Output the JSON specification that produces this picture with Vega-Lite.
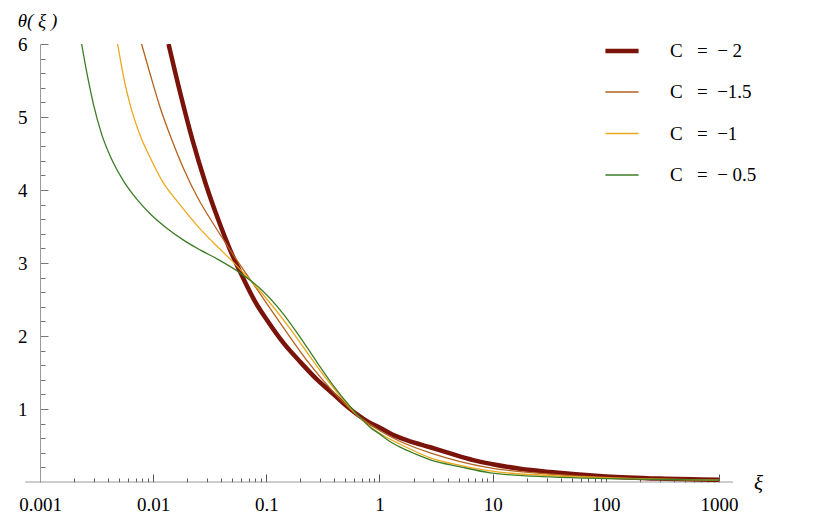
{
  "$schema": "https://vega.github.io/schema/vega-lite/v6.json",
  "width": 693,
  "height": 438,
  "autosize": {"type": "none"},
  "padding": {"left": 40, "top": 44, "right": 97, "bottom": 44},
  "background": "white",
  "config": {"view": {"stroke": null}, "font": "Liberation Serif"},
  "datasets": {
    "curves": [
      {"xi": 0.01367, "theta": 6.0, "C": "-2"},
      {"xi": 0.01746, "theta": 5.311, "C": "-2"},
      {"xi": 0.02227, "theta": 4.682, "C": "-2"},
      {"xi": 0.02901, "theta": 4.093, "C": "-2"},
      {"xi": 0.037, "theta": 3.622, "C": "-2"},
      {"xi": 0.04822, "theta": 3.167, "C": "-2"},
      {"xi": 0.0628, "theta": 2.784, "C": "-2"},
      {"xi": 0.08012, "theta": 2.463, "C": "-2"},
      {"xi": 0.1023, "theta": 2.208, "C": "-2"},
      {"xi": 0.1416, "theta": 1.905, "C": "-2"},
      {"xi": 0.2, "theta": 1.642, "C": "-2"},
      {"xi": 0.2768, "theta": 1.412, "C": "-2"},
      {"xi": 0.391, "theta": 1.204, "C": "-2"},
      {"xi": 0.5093, "theta": 1.043, "C": "-2"},
      {"xi": 0.6368, "theta": 0.924, "C": "-2"},
      {"xi": 0.7964, "theta": 0.822, "C": "-2"},
      {"xi": 1.0, "theta": 0.746, "C": "-2"},
      {"xi": 1.297, "theta": 0.65, "C": "-2"},
      {"xi": 1.759, "theta": 0.57, "C": "-2"},
      {"xi": 2.808, "theta": 0.476, "C": "-2"},
      {"xi": 4.217, "theta": 0.391, "C": "-2"},
      {"xi": 6.729, "theta": 0.299, "C": "-2"},
      {"xi": 10, "theta": 0.244, "C": "-2"},
      {"xi": 17.49, "theta": 0.182, "C": "-2"},
      {"xi": 32.17, "theta": 0.137, "C": "-2"},
      {"xi": 100, "theta": 0.077, "C": "-2"},
      {"xi": 300.9, "theta": 0.047, "C": "-2"},
      {"xi": 1000, "theta": 0.03, "C": "-2"},

      {"xi": 0.007901, "theta": 6.0, "C": "-1.5"},
      {"xi": 0.009487, "theta": 5.568, "C": "-1.5"},
      {"xi": 0.01162, "theta": 5.114, "C": "-1.5"},
      {"xi": 0.01453, "theta": 4.699, "C": "-1.5"},
      {"xi": 0.01855, "theta": 4.295, "C": "-1.5"},
      {"xi": 0.02516, "theta": 3.873, "C": "-1.5"},
      {"xi": 0.03412, "theta": 3.534, "C": "-1.5"},
      {"xi": 0.05124, "theta": 3.109, "C": "-1.5"},
      {"xi": 0.08517, "theta": 2.611, "C": "-1.5"},
      {"xi": 0.1416, "theta": 2.115, "C": "-1.5"},
      {"xi": 0.2449, "theta": 1.604, "C": "-1.5"},
      {"xi": 0.391, "theta": 1.235, "C": "-1.5"},
      {"xi": 0.6368, "theta": 0.913, "C": "-1.5"},
      {"xi": 1.0, "theta": 0.706, "C": "-1.5"},
      {"xi": 1.526, "theta": 0.555, "C": "-1.5"},
      {"xi": 2.808, "theta": 0.399, "C": "-1.5"},
      {"xi": 5.168, "theta": 0.28, "C": "-1.5"},
      {"xi": 9.504, "theta": 0.193, "C": "-1.5"},
      {"xi": 32.17, "theta": 0.107, "C": "-1.5"},
      {"xi": 100, "theta": 0.062, "C": "-1.5"},
      {"xi": 300.9, "theta": 0.037, "C": "-1.5"},
      {"xi": 1000, "theta": 0.025, "C": "-1.5"},

      {"xi": 0.00485, "theta": 6.0, "C": "-1"},
      {"xi": 0.005156, "theta": 5.767, "C": "-1"},
      {"xi": 0.005479, "theta": 5.548, "C": "-1"},
      {"xi": 0.006318, "theta": 5.145, "C": "-1"},
      {"xi": 0.007742, "theta": 4.733, "C": "-1"},
      {"xi": 0.009487, "theta": 4.432, "C": "-1"},
      {"xi": 0.01235, "theta": 4.093, "C": "-1"},
      {"xi": 0.01642, "theta": 3.84, "C": "-1"},
      {"xi": 0.0262, "theta": 3.461, "C": "-1"},
      {"xi": 0.03343, "theta": 3.291, "C": "-1"},
      {"xi": 0.05124, "theta": 3.009, "C": "-1"},
      {"xi": 0.08869, "theta": 2.609, "C": "-1"},
      {"xi": 0.1632, "theta": 2.095, "C": "-1"},
      {"xi": 0.2825, "theta": 1.576, "C": "-1"},
      {"xi": 0.4508, "theta": 1.173, "C": "-1"},
      {"xi": 0.6368, "theta": 0.914, "C": "-1"},
      {"xi": 0.8293, "theta": 0.757, "C": "-1"},
      {"xi": 1.0, "theta": 0.668, "C": "-1"},
      {"xi": 1.526, "theta": 0.517, "C": "-1"},
      {"xi": 2.808, "theta": 0.332, "C": "-1"},
      {"xi": 5.168, "theta": 0.229, "C": "-1"},
      {"xi": 9.504, "theta": 0.151, "C": "-1"},
      {"xi": 32.17, "theta": 0.089, "C": "-1"},
      {"xi": 100, "theta": 0.056, "C": "-1"},
      {"xi": 300.9, "theta": 0.04, "C": "-1"},
      {"xi": 1000, "theta": 0.026, "C": "-1"},

      {"xi": 0.002333, "theta": 6.0, "C": "-0.5"},
      {"xi": 0.002636, "theta": 5.548, "C": "-0.5"},
      {"xi": 0.002979, "theta": 5.164, "C": "-0.5"},
      {"xi": 0.003504, "theta": 4.766, "C": "-0.5"},
      {"xi": 0.004207, "theta": 4.451, "C": "-0.5"},
      {"xi": 0.005479, "theta": 4.122, "C": "-0.5"},
      {"xi": 0.007283, "theta": 3.861, "C": "-0.5"},
      {"xi": 0.009487, "theta": 3.669, "C": "-0.5"},
      {"xi": 0.01287, "theta": 3.491, "C": "-0.5"},
      {"xi": 0.01855, "theta": 3.313, "C": "-0.5"},
      {"xi": 0.0262, "theta": 3.176, "C": "-0.5"},
      {"xi": 0.037, "theta": 3.053, "C": "-0.5"},
      {"xi": 0.05907, "theta": 2.861, "C": "-0.5"},
      {"xi": 0.08869, "theta": 2.647, "C": "-0.5"},
      {"xi": 0.1416, "theta": 2.3, "C": "-0.5"},
      {"xi": 0.2, "theta": 1.978, "C": "-0.5"},
      {"xi": 0.2825, "theta": 1.633, "C": "-0.5"},
      {"xi": 0.391, "theta": 1.321, "C": "-0.5"},
      {"xi": 0.5524, "theta": 1.031, "C": "-0.5"},
      {"xi": 0.6767, "theta": 0.88, "C": "-0.5"},
      {"xi": 0.8293, "theta": 0.747, "C": "-0.5"},
      {"xi": 1.0, "theta": 0.659, "C": "-0.5"},
      {"xi": 1.245, "theta": 0.552, "C": "-0.5"},
      {"xi": 1.526, "theta": 0.477, "C": "-0.5"},
      {"xi": 2.07, "theta": 0.385, "C": "-0.5"},
      {"xi": 2.808, "theta": 0.303, "C": "-0.5"},
      {"xi": 5.168, "theta": 0.208, "C": "-0.5"},
      {"xi": 9.504, "theta": 0.126, "C": "-0.5"},
      {"xi": 32.17, "theta": 0.069, "C": "-0.5"},
      {"xi": 100, "theta": 0.046, "C": "-0.5"},
      {"xi": 300.9, "theta": 0.034, "C": "-0.5"},
      {"xi": 1000, "theta": 0.026, "C": "-0.5"}
    ],
    "axisline": [{"x0": 0.00074, "x1": 1330, "y": 0}]
  },
  "resolve": {"axis": {"x": "independent", "y": "independent"}},
  "layer": [
    {
      "data": {"name": "axisline"},
      "mark": {"type": "rule", "color": "#9a9a9a", "strokeWidth": 1, "clip": false},
      "encoding": {
        "x": {"field": "x0", "type": "quantitative",
          "scale": {"type": "log", "domain": [0.001, 1330], "nice": false},
          "axis": {"orient": "bottom", "values": [0.002,0.003,0.004,0.005,0.006,0.007,0.008,0.009,0.02,0.03,0.04,0.05,0.06,0.07,0.08,0.09,0.2,0.3,0.4,0.5,0.6,0.7,0.8,0.9,2,3,4,5,6,7,8,9,20,30,40,50,60,70,80,90,200,300,400,500,600,700,800,900],
            "labels": false, "domain": false, "grid": false, "title": null, "tickSize": -4, "tickColor": "#555", "tickWidth": 1}},
        "x2": {"field": "x1"},
        "y": {"field": "y", "type": "quantitative",
          "scale": {"domain": [0, 6], "nice": false, "zero": false},
          "axis": {"orient": "left", "values": [0.2,0.4,0.6,0.8,1.2,1.4,1.6,1.8,2.2,2.4,2.6,2.8,3.2,3.4,3.6,3.8,4.2,4.4,4.6,4.8,5.2,5.4,5.6,5.8],
            "labels": false, "domain": false, "grid": false, "title": null, "tickSize": -5, "tickColor": "#777", "tickWidth": 1}}
      }
    },
    {
      "data": {"name": "curves"},
      "mark": {"type": "line", "interpolate": "monotone", "clip": true},
      "encoding": {
        "x": {"field": "xi", "type": "quantitative",
          "scale": {"type": "log", "domain": [0.001, 1330], "nice": false},
          "axis": {"orient": "bottom", "values": [0.001, 0.01, 0.1, 1, 10, 100, 1000], "format": "~g",
            "domain": false, "grid": false, "tickSize": -8, "tickColor": "#555", "tickWidth": 1,
            "labelFont": "Liberation Serif", "labelFontSize": 19, "labelColor": "black", "labelPadding": 21,
            "labelFlush": false,
            "title": "ξ", "titleFont": "Liberation Serif", "titleFontStyle": "italic", "titleFontWeight": "normal",
            "titleFontSize": 21, "titleColor": "black", "titleX": 718, "titleY": 1, "titleAlign": "center", "titleBaseline": "middle"}},
        "y": {"field": "theta", "type": "quantitative",
          "scale": {"domain": [0, 6], "nice": false, "zero": false},
          "axis": {"orient": "left", "values": [1, 2, 3, 4, 5, 6], "format": "d",
            "domain": true, "domainColor": "#9a9a9a", "domainWidth": 1, "grid": false,
            "tickSize": -8, "tickColor": "#777", "tickWidth": 1,
            "labelFont": "Liberation Serif", "labelFontSize": 19, "labelColor": "black", "labelPadding": 21,
            "labelFlush": false,
            "title": "θ( ξ )", "titleFont": "Liberation Serif", "titleFontStyle": "italic", "titleFontWeight": "normal",
            "titleFontSize": 19, "titleColor": "black", "titleAngle": 0, "titleX": -3, "titleY": -24,
            "titleAlign": "center", "titleBaseline": "middle"}},
        "color": {"field": "C", "type": "nominal",
          "scale": {"domain": ["-2", "-1.5", "-1", "-0.5"],
            "range": ["#7a140a", "#b4621e", "#eda81f", "#3d7d26"]},
          "legend": {"orient": "none", "legendX": 563, "legendY": -12, "title": null,
            "symbolType": "stroke", "symbolSize": 1100, "labelFont": "Liberation Serif", "labelFontSize": 19,
            "labelColor": "black", "labelOffset": 29, "rowPadding": 13.5, "labelLimit": 300,
            "labelExpr": "datum.label == '-2' ? 'C\u00a0\u00a0\u00a0=\u00a0\u00a0−\u00a02' : datum.label == '-1.5' ? 'C\u00a0\u00a0\u00a0=\u00a0\u00a0−1.5' : datum.label == '-1' ? 'C\u00a0\u00a0\u00a0=\u00a0\u00a0−1' : 'C\u00a0\u00a0\u00a0=\u00a0\u00a0−\u00a00.5'"}},
        "strokeWidth": {"field": "C", "type": "nominal",
          "scale": {"type": "ordinal", "domain": ["-2", "-1.5", "-1", "-0.5"], "range": [4.5, 1.3, 1.3, 1.3]},
          "legend": {"orient": "none", "legendX": 563, "legendY": -12, "title": null,
            "symbolType": "stroke", "symbolSize": 1100, "labelFont": "Liberation Serif", "labelFontSize": 19,
            "labelColor": "black", "labelOffset": 29, "rowPadding": 13.5, "labelLimit": 300,
            "labelExpr": "datum.label == '-2' ? 'C\u00a0\u00a0\u00a0=\u00a0\u00a0−\u00a02' : datum.label == '-1.5' ? 'C\u00a0\u00a0\u00a0=\u00a0\u00a0−1.5' : datum.label == '-1' ? 'C\u00a0\u00a0\u00a0=\u00a0\u00a0−1' : 'C\u00a0\u00a0\u00a0=\u00a0\u00a0−\u00a00.5'"}}
      }
    }
  ]
}
